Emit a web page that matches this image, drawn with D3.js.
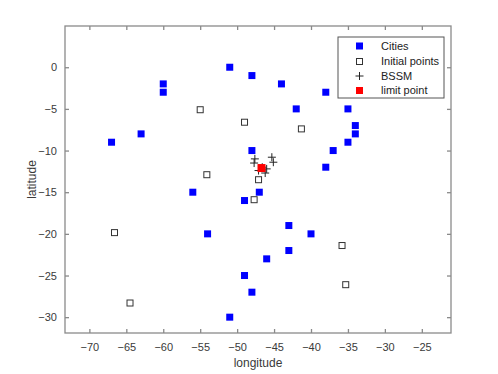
<!DOCTYPE html>
<html>
<head>
<meta charset="utf-8">
<script src="https://cdn.jsdelivr.net/npm/d3@7"></script>
<style>
  body { margin: 0; background: #fff; }
  svg { display: block; font-family: "Liberation Sans", Arial, sans-serif; }
</style>
</head>
<body>
<div id="chart"></div>
<script>
// cities (longitude, latitude)
const cityLon = [-51, -48, -60, -60, -44, -38, -42, -35, -63, -67, -34, -34, -37, -35,
  -48, -38, -56, -47, -49, -54, -43, -40, -43, -46, -49, -48, -51];
const cityLat = [0, -1, -2, -3, -2, -3, -5, -5, -8, -9, -7, -8, -10, -9,
  -10, -12, -15, -15, -16, -20, -19, -20, -22, -23, -25, -27, -30];

// initial points
const initLon = [-55, -54.1, -49, -41.3, -47.1, -47.7, -35.8, -35.3, -66.6, -64.5];
const initLat = [-5.1, -12.9, -6.6, -7.4, -13.5, -15.9, -21.4, -26.1, -19.85, -28.3];

// BSSM iterates
const bssmLon = [-47.6, -47.7, -45.3, -45.1, -46.0, -46.2, -47.1, -46.6];
const bssmLat = [-11.0, -11.5, -10.8, -11.4, -12.2, -12.7, -12.4, -12.0];

// limit point
const limitLon = [-46.7];
const limitLat = [-12.1];

const xTicks = [-70, -65, -60, -55, -50, -45, -40, -35, -30, -25];
const yTicks = [0, -5, -10, -15, -20, -25, -30];

const legendLabels = ["Cities", "Initial points", "BSSM", "limit point"];

const width = 498, height = 374;
const margin = { top: 26, right: 47, bottom: 41, left: 65 };
const axisColor = "#8a8a8a";
const textColor = "#3a3a3a";

const svg = d3.select("#chart").append("svg")
  .attr("width", width)
  .attr("height", height);

const x = d3.scaleLinear().domain([-73.3, -21.05]).range([margin.left, width - margin.right]);
const y = d3.scaleLinear().domain([-31.9, 4.95]).range([height - margin.bottom, margin.top]);

// box
svg.append("rect")
  .attr("x", x.range()[0]).attr("y", y.range()[1])
  .attr("width", x.range()[1] - x.range()[0])
  .attr("height", y.range()[0] - y.range()[1])
  .attr("fill", "none").attr("stroke", axisColor).attr("stroke-width", 1.3);

function styleAxis(g) {
  g.select(".domain").remove();
  g.selectAll(".tick line").attr("stroke", axisColor).attr("stroke-width", 1.3);
  g.selectAll(".tick text").attr("fill", textColor).attr("font-size", "11px");
}

svg.append("g")
  .attr("transform", `translate(0,${y.range()[0]})`)
  .call(d3.axisBottom(x).tickValues(xTicks).tickSize(-4).tickPadding(10))
  .call(styleAxis);
svg.append("g")
  .attr("transform", `translate(0,${y.range()[1]})`)
  .call(d3.axisTop(x).tickValues(xTicks).tickSize(-4).tickFormat(""))
  .call(styleAxis);
svg.append("g")
  .attr("transform", `translate(${x.range()[0]},0)`)
  .call(d3.axisLeft(y).tickValues(yTicks).tickSize(-4).tickPadding(8))
  .call(styleAxis);
svg.append("g")
  .attr("transform", `translate(${x.range()[1]},0)`)
  .call(d3.axisRight(y).tickValues(yTicks).tickSize(-4).tickFormat(""))
  .call(styleAxis);

// axis labels
svg.append("text")
  .attr("x", (x.range()[0] + x.range()[1]) / 2).attr("y", 367)
  .attr("text-anchor", "middle").attr("font-size", "12px").attr("fill", textColor)
  .text("longitude");
svg.append("text")
  .attr("transform", `translate(36,${(y.range()[0] + y.range()[1]) / 2}) rotate(-90)`)
  .attr("text-anchor", "middle").attr("font-size", "12px").attr("fill", textColor)
  .text("latitude");

const sq = 7, osq = 6;

// cities
svg.append("g").selectAll("rect")
  .data(d3.range(cityLon.length))
  .join("rect")
    .attr("x", i => x(cityLon[i]) - sq / 2)
    .attr("y", i => y(cityLat[i]) - sq / 2)
    .attr("width", sq).attr("height", sq)
    .attr("fill", "#0000ff");

// initial points
svg.append("g").selectAll("rect")
  .data(d3.range(initLon.length))
  .join("rect")
    .attr("x", i => x(initLon[i]) - osq / 2)
    .attr("y", i => y(initLat[i]) - osq / 2)
    .attr("width", osq).attr("height", osq)
    .attr("fill", "none").attr("stroke", "#333").attr("stroke-width", 1);

// BSSM
const plus = (g, cx, cy, r) => g.append("path")
  .attr("d", `M${cx - r},${cy}H${cx + r}M${cx},${cy - r}V${cy + r}`)
  .attr("stroke", "#222").attr("stroke-width", 1).attr("fill", "none");
const bg = svg.append("g");
bssmLon.forEach((lon, i) => plus(bg, x(lon), y(bssmLat[i]), 4));

// limit point
svg.append("g").selectAll("rect")
  .data(d3.range(limitLon.length))
  .join("rect")
    .attr("x", i => x(limitLon[i]) - 4)
    .attr("y", i => y(limitLat[i]) - 4)
    .attr("width", 8).attr("height", 8)
    .attr("fill", "#ff0000");

// legend
const lg = svg.append("g").attr("transform", "translate(338,37)");
lg.append("rect")
  .attr("width", 106).attr("height", 61)
  .attr("fill", "#fff").attr("stroke", "#555").attr("stroke-width", 1);
const rowY = [9, 24.5, 39, 53.5];
legendLabels.forEach((t, i) => {
  lg.append("text")
    .attr("x", 43).attr("y", rowY[i]).attr("dy", "0.35em")
    .attr("font-size", "11px").attr("fill", "#222")
    .text(t);
});
lg.append("rect").attr("x", 21.5 - 3.5).attr("y", rowY[0] - 3.5).attr("width", 7).attr("height", 7).attr("fill", "#0000ff");
lg.append("rect").attr("x", 21.5 - 3).attr("y", rowY[1] - 3).attr("width", 6).attr("height", 6)
  .attr("fill", "none").attr("stroke", "#333");
plus(lg, 21.5, rowY[2], 4);
lg.append("rect").attr("x", 21.5 - 3.5).attr("y", rowY[3] - 3.5).attr("width", 7).attr("height", 7).attr("fill", "#ff0000");
</script>
</body>
</html>
